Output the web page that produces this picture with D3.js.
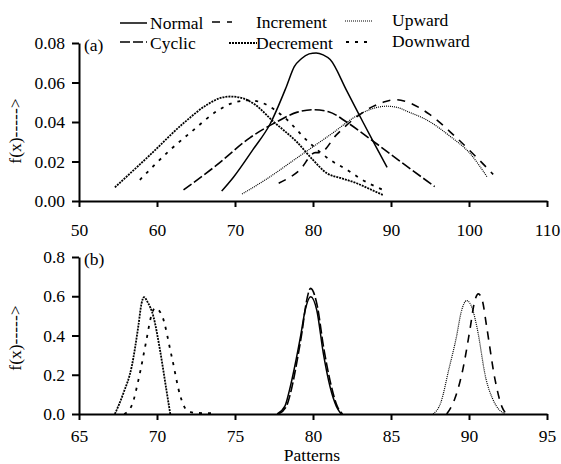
<!DOCTYPE html>
<html><head><meta charset="utf-8">
<script src="https://cdn.jsdelivr.net/npm/d3@7"></script>
<style>
body{margin:0;background:#fff}
svg text{font-family:"Liberation Serif","Tinos","DejaVu Serif",serif !important;fill:#000}
</style></head>
<body><svg id="c" width="561" height="464"></svg>
<script>
// ---------- data ----------
const seriesNames = ["Normal","Cyclic","Increment","Decrement","Upward","Downward"];

// panel (a)
const normalAx = [68.3,69.8,72.3,74.5,76.6,77.6,78.5,79.5,80.4,81.3,82.2,84.3,86.4,88.0,89.5];
const normalAy = [0.005,0.012,0.026,0.039,0.058,0.068,0.072,0.0745,0.075,0.074,0.0716,0.056,0.040,0.028,0.017];
const cyclicAx = [63.4,67.6,71.9,75.3,78.0,80.0,82.0,84.3,87.3,91.0,95.6];
const cyclicAy = [0.0056,0.018,0.032,0.040,0.0450,0.0462,0.0452,0.040,0.0315,0.0206,0.0073];
const incrementAx = [75.6,78.3,80.3,80.9,83.0,85.4,87.7,89.0,90.5,91.8,95.0,98.0,101.0,103.1];
const incrementAy = [0.009,0.0157,0.0245,0.0245,0.0335,0.042,0.0479,0.050,0.0513,0.0505,0.0437,0.0335,0.022,0.0135];
const decrementAx = [54.6,59.1,63.4,66.4,68.0,69.4,71.0,72.5,74.9,77.9,80.0,81.8,83.5,85.6,87.3,89.0];
const decrementAy = [0.0069,0.0233,0.0394,0.0487,0.052,0.0529,0.052,0.049,0.0403,0.030,0.0208,0.014,0.0117,0.009,0.006,0.003];
const upwardAx = [70.9,74.0,77.9,82.2,86.0,88.0,89.4,91.0,92.0,94.6,97.6,100.1,102.3];
const upwardAy = [0.0035,0.011,0.0217,0.0335,0.0440,0.0472,0.048,0.0472,0.0455,0.041,0.0327,0.0242,0.0123];
const downwardAx = [57.8,61.7,64.7,67.6,70.0,72.0,73.6,76.2,79.4,82.2,84.5,86.0,89.0];
const downwardAy = [0.0107,0.0259,0.036,0.0453,0.050,0.051,0.0495,0.0428,0.030,0.0208,0.0155,0.0115,0.0056];

// panel (b)
const normalBx = [77.7,78.2,78.5,78.9,79.2,79.5,79.85,80.24,80.66,81.09,81.5,81.8];
const normalBy = [0,0.04,0.124,0.27,0.395,0.53,0.598,0.53,0.31,0.14,0.039,0];
const cyclicBx = [77.8,78.3,78.6,79.0,79.3,79.55,79.85,80.25,80.7,81.15,81.55,81.9];
const cyclicBy = [0,0.04,0.12,0.28,0.42,0.56,0.64,0.56,0.33,0.15,0.04,0];
const incrementBx = [88.57,89.1,89.6,90.06,90.35,90.6,90.85,91.13,91.67,92.1,92.4];
const incrementBy = [0,0.08,0.225,0.43,0.57,0.612,0.58,0.446,0.175,0.039,0];
const decrementBx = [67.3,67.85,68.38,68.8,69.0,69.17,69.4,69.77,70.19,70.6,70.85];
const decrementBy = [0,0.107,0.242,0.446,0.56,0.595,0.57,0.497,0.327,0.124,0];
const upwardBx = [87.7,88.2,88.7,89.2,89.5,89.85,90.2,90.5,91.1,91.5,91.77,92.3];
const upwardBy = [0,0.06,0.225,0.395,0.52,0.578,0.54,0.446,0.175,0.08,0.039,0];
const downwardBx = [67.9,68.4,68.8,69.33,69.6,69.87,70.3,70.95,71.5,71.9,72.4,73.5];
const downwardBy = [0,0.047,0.17,0.38,0.49,0.54,0.505,0.29,0.09,0.02,0.006,0.004];

const xTicksA = [50,60,70,80,90,100,110];
const yTicksA = [0,0.02,0.04,0.06,0.08];
const xTicksB = [65,70,75,80,85,90,95];
const yTicksB = [0,0.2,0.4,0.6,0.8];

// ---------- styles ----------
const styles = {
  Normal:   {dash:null,   w:1.5},
  Cyclic:   {dash:"10,3", w:1.6},
  Increment:{dash:"8,7",  w:1.6},
  Decrement:{dash:"2,1",  w:1.8},
  Upward:   {dash:"1,1",  w:1.2},
  Downward: {dash:"3,6",  w:1.8}
};

const FONT = "'Liberation Serif', Tinos, 'DejaVu Serif', serif";
const svg = d3.select("#c");
const FS = 17.5;

function txt(sel){ return sel.style("font-family",FONT).attr("font-size",FS); }

function panel(cfg){
  const x = d3.scaleLinear().domain(cfg.xd).range([79,547]);
  const y = d3.scaleLinear().domain(cfg.yd).range(cfg.yr);
  const g = svg.append("g");
  const line = d3.line().x(d=>x(d[0])).y(d=>y(d[1])).curve(d3.curveMonotoneX);
  cfg.series.forEach(s=>{
    const st = styles[s.name];
    g.append("path").datum(s.xs.map((v,i)=>[v,s.ys[i]]))
      .attr("d",line).attr("fill","none").attr("stroke","#000")
      .attr("stroke-width",st.w).attr("stroke-dasharray",st.dash);
  });
  const xa = g.append("g").attr("transform",`translate(0,${cfg.yr[0]})`)
    .call(d3.axisBottom(x).tickValues(cfg.xt).tickSize(6).tickSizeOuter(0).tickPadding(cfg.xpad).tickFormat(d3.format("d")));
  const ya = g.append("g").attr("transform","translate(79,0)")
    .call(d3.axisLeft(y).tickValues(cfg.yt).tickSize(7).tickSizeOuter(0).tickPadding(7).tickFormat(d3.format(cfg.yf)));
  [xa,ya].forEach(a=>{
    a.attr("font-family",null);
    a.selectAll("path,line").attr("stroke","#000").attr("stroke-width",2);
    txt(a.selectAll("text"));
  });
  txt(g.append("text").attr("x",84).attr("y",cfg.yr[1]+8).text(cfg.label));
  txt(g.append("text").attr("transform",`translate(21,${cfg.ylabY}) rotate(-90)`)
    .attr("text-anchor","middle").text("f(x)----->"));
}

panel({xd:[50,110], yd:[0,0.08], yr:[201,43], xt:xTicksA, yt:yTicksA, yf:".2f", label:"(a)", ylabY:131, xpad:17,
  series:[
    {name:"Normal",xs:normalAx,ys:normalAy},
    {name:"Cyclic",xs:cyclicAx,ys:cyclicAy},
    {name:"Increment",xs:incrementAx,ys:incrementAy},
    {name:"Decrement",xs:decrementAx,ys:decrementAy},
    {name:"Upward",xs:upwardAx,ys:upwardAy},
    {name:"Downward",xs:downwardAx,ys:downwardAy}
  ]});
panel({xd:[65,95], yd:[0,0.8], yr:[414,257], xt:xTicksB, yt:yTicksB, yf:".1f", label:"(b)", ylabY:338, xpad:10,
  series:[
    {name:"Normal",xs:normalBx,ys:normalBy},
    {name:"Cyclic",xs:cyclicBx,ys:cyclicBy},
    {name:"Increment",xs:incrementBx,ys:incrementBy},
    {name:"Decrement",xs:decrementBx,ys:decrementBy},
    {name:"Upward",xs:upwardBx,ys:upwardBy},
    {name:"Downward",xs:downwardBx,ys:downwardBy}
  ]});

txt(svg.append("text").attr("x",312).attr("y",461).attr("text-anchor","middle").text("Patterns"));

// legend
const legendPos = [
  {name:"Normal",   lx:[120,147], ly:23, tx:150, ty:29},
  {name:"Cyclic",   lx:[120,147], ly:42, tx:150, ty:49},
  {name:"Increment",lx:[212,232], ly:22, tx:256, ty:28},
  {name:"Decrement",lx:[229,257], ly:43, tx:256, ty:49},
  {name:"Upward",   lx:[345,373], ly:21, tx:392, ty:26},
  {name:"Downward", lx:[346,373], ly:42, tx:392, ty:47}
];
legendPos.forEach(p=>{
  const st = styles[p.name];
  svg.append("line").attr("x1",p.lx[0]).attr("x2",p.lx[1]).attr("y1",p.ly).attr("y2",p.ly)
    .attr("stroke","#000").attr("stroke-width",st.w).attr("stroke-dasharray",st.dash);
  txt(svg.append("text").attr("x",p.tx).attr("y",p.ty).text(p.name));
});
</script></body></html>
